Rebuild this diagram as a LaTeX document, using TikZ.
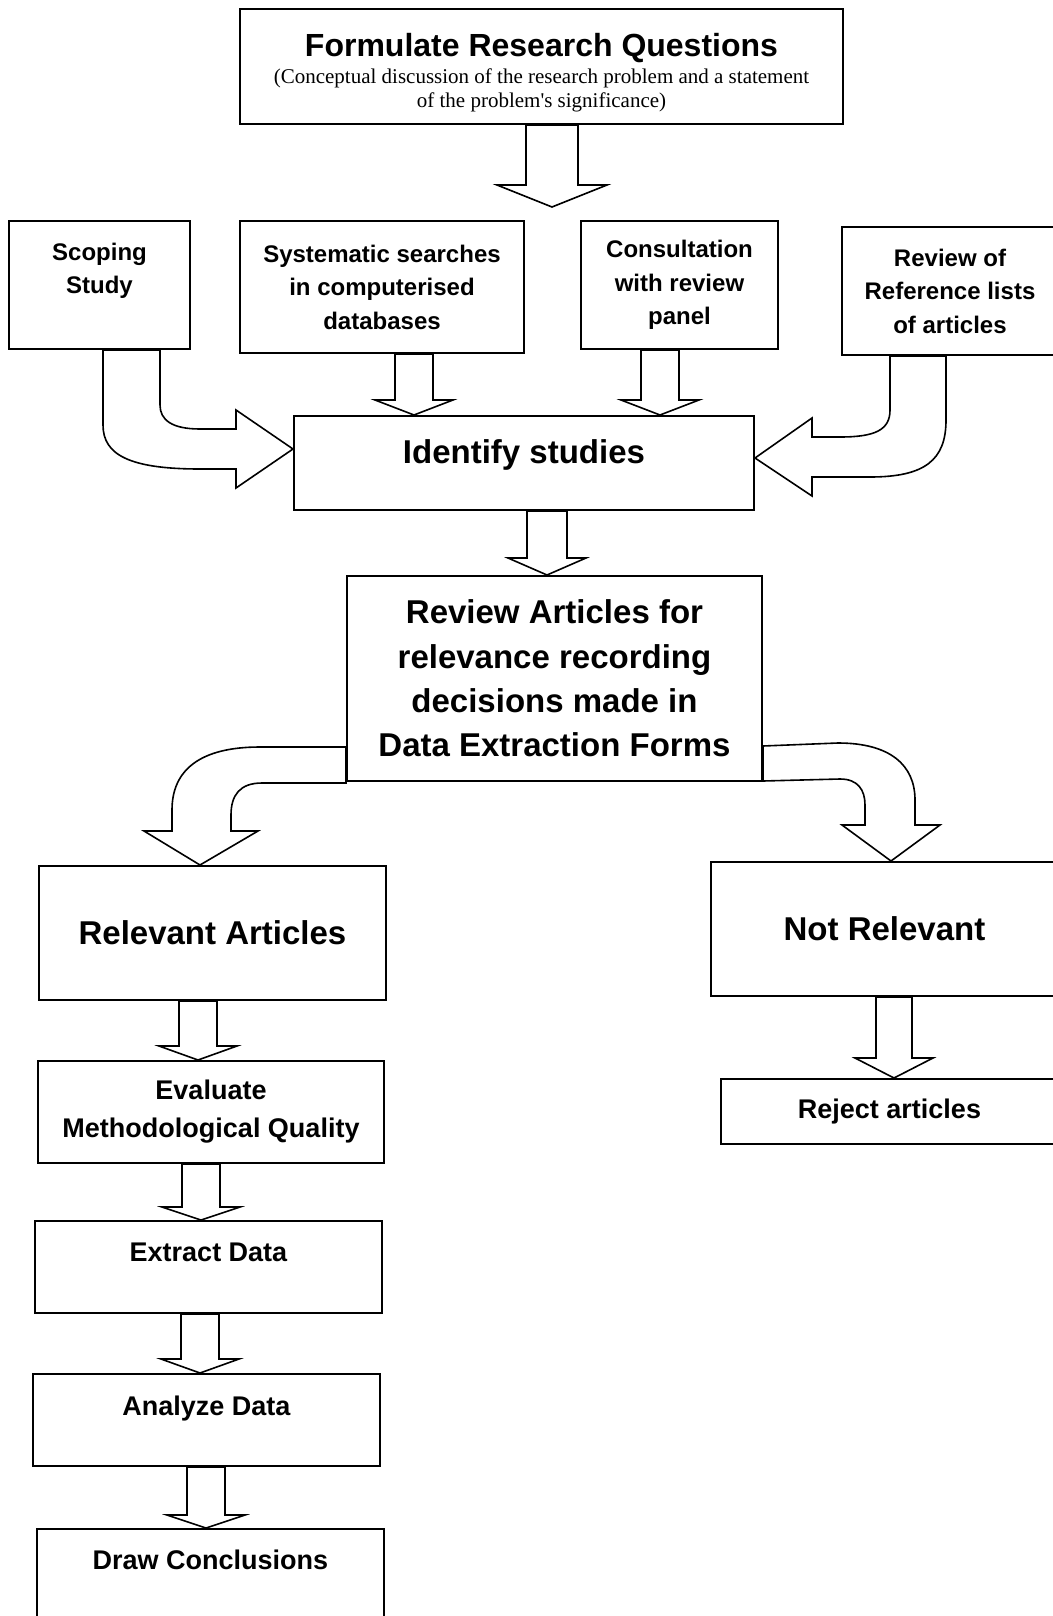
\documentclass[tikz,border=0pt]{standalone}
\usepackage{fontspec}
\setmainfont{Liberation Sans}
\newfontfamily\timesfont{Liberation Serif}
\usetikzlibrary{calc}

% hollow block arrow pointing down: from, to, x, half shaft, half head, head length
\newcommand{\blockdown}[6]{%
	\draw[blockarrow] let \p1=(#1), \p2=(#2) in
		(#3pt-#4pt,\y1) -- (#3pt-#4pt,\y2+#6pt) -- (#3pt-#5pt,\y2+#6pt) -- (#3pt,\y2)
		-- (#3pt+#5pt,\y2+#6pt) -- (#3pt+#4pt,\y2+#6pt) -- (#3pt+#4pt,\y1) -- cycle;}

\begin{document}
\begin{tikzpicture}[x=1pt,y=-1pt,
						box/.style={draw,line width=2pt,fill=white,align=center,inner sep=0pt,font=\bfseries\fontsize{27}{38}\selectfont},
						small/.style={font=\bfseries\fontsize{24}{33.5}\selectfont},
						big/.style={font=\bfseries\fontsize{33}{44.3}\selectfont},
						raised/.style={text height=19pt,text depth=#1},
						blockarrow/.style={draw,line width=1.6pt,fill=white,line join=miter}]
		\useasboundingbox (0,0) rectangle (1052,1616);

		\node[box,minimum width=603pt,minimum height=115pt,font=\timesfont\fontsize{21}{24}\selectfont]	(quest)	at (541.5,66.5)
			{{\normalfont\bfseries\fontsize{32}{38}\selectfont\rule{0pt}{36pt}Formulate Research Questions}\\[3.5pt]
			(Conceptual discussion of the research problem and a statement\\ of the problem\textquotesingle s significance)};
		\coordinate (qtip) at (552,207);

		\node[box,small,minimum width=181pt,minimum height=128pt]	(scope)		at (99.5,285)	{Scoping\\Study\\\mbox{}};
		\node[box,small,minimum width=284pt,minimum height=132pt]	(search)	at (382,287)	{Systematic searches\\in computerised\\databases};
		\node[box,small,minimum width=197pt,minimum height=128pt]	(panel)		at (679.5,285)	{Consultation\\with review\\panel};
		\node[box,small,minimum width=216pt,minimum height=128pt]	(reflist)	at (950,291)	{Review of\\Reference lists\\of articles};

		\node[box,big,minimum width=460pt,minimum height=94pt,text height=24pt,text depth=24pt]	(ident)	at (524,463)	{Identify studies};
		\node[box,big,minimum width=415pt,minimum height=205pt]	(review)	at (554.5,678.5)
			{Review Articles for\\relevance recording\\decisions made in\\Data Extraction Forms};

		\node[box,big,minimum width=347pt,minimum height=134pt]	(rel)		at (212.5,933)	{Relevant Articles};
		\node[box,big,minimum width=347pt,minimum height=134pt]	(notrel)	at (884.5,929)	{Not Relevant};

		\node[box,minimum width=346pt,minimum height=102pt]				(eval)		at (211,1112)	{Evaluate\\Methodological Quality};
		\node[box,raised=30pt,minimum width=347pt,minimum height=92pt]	(extract)	at (208.5,1267)	{Extract Data};
		\node[box,raised=28pt,minimum width=347pt,minimum height=92pt]	(analyze)	at (206.5,1420)	{Analyze Data};
		\node[box,raised=30pt,minimum width=347pt,minimum height=92pt]	(concl)		at (210.5,1575)	{Draw Conclusions};
		\node[box,minimum width=337pt,minimum height=65pt]				(reject)	at (889.5,1111.5)	{Reject articles};

		\blockdown{quest.south}{qtip}{552}{26}{55}{22}
		\blockdown{search.south}{ident.north}{414}{19}{39}{15}
		\blockdown{panel.south}{ident.north}{660}{19}{39}{15}
		\blockdown{ident.south}{review.north}{547}{20}{39}{17}
		\blockdown{rel.south}{eval.north}{198}{19}{39}{14}
		\blockdown{eval.south}{extract.north}{201}{19}{39}{13}
		\blockdown{extract.south}{analyze.north}{200}{19}{39}{14}
		\blockdown{analyze.south}{concl.north}{206}{19}{39}{13}
		\blockdown{notrel.south}{reject.north}{894}{18}{39}{20}

		% bent arrows
		\draw[blockarrow] ([xshift=3.5pt]scope.south) -- (103,425) .. controls (103,455) and (130,469) .. (200,469) -- (236,469) -- (236,488)
			-- ([yshift=14pt]ident.west) -- (236,410) -- (236,429) -- (200,429) .. controls (172,429) and (160,420) .. (160,405) -- (160,350) -- cycle;
		\draw[blockarrow] ([xshift=-60pt]reflist.south) -- (890,410) .. controls (890,430) and (875,437) .. (840,437) -- (812,437) -- (812,418)
			-- ([yshift=5pt]ident.east) -- (812,496) -- (812,477) -- (870,477) .. controls (925,477) and (946,460) .. (946,420) -- (946,356) -- cycle;
		\draw[blockarrow] ([yshift=-68.5pt]review.west) -- (260,747) .. controls (200,747) and (172,770) .. (172,810) -- (172,831) -- (144,831)
			-- ([xshift=-12.5pt]rel.north) -- (258,831) -- (231,831) -- (231,815) .. controls (231,795) and (240,783) .. (262,783) -- (346,783) -- cycle;
		\draw[blockarrow] ([yshift=-67.5pt]review.east) -- (838,743) .. controls (890,743) and (915,765) .. (915,800) -- (915,825) -- (940,825)
			-- ([xshift=6.5pt]notrel.north) -- (842,825) -- (865,825) -- (865,805) .. controls (865,790) and (858,779) .. (840,779) -- (763,781) -- cycle;
	\end{tikzpicture}
\end{document}
